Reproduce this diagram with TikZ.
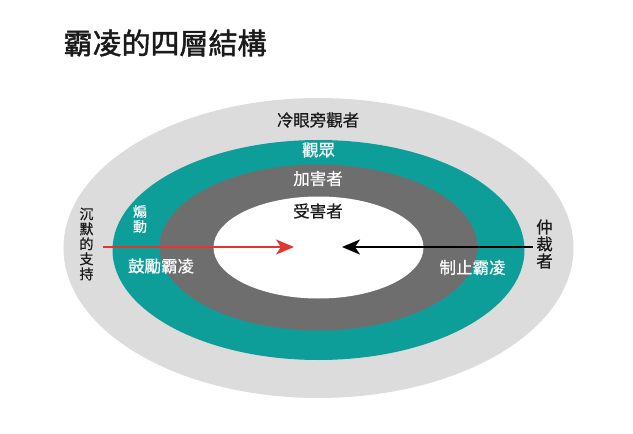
\documentclass[tikz,border=0pt]{standalone}
\usepackage{fontspec}
\newfontfamily\cjk[FakeBold=0.6]{Noto Sans CJK TC}
\newfontfamily\cjktitle[FakeBold=1.6]{Noto Sans CJK TC}
\usetikzlibrary{arrows.meta}
\definecolor{ringgray}{HTML}{DCDCDC}
\definecolor{ringteal}{HTML}{0E9E99}
\definecolor{ringdark}{HTML}{6F6E6F}
\definecolor{arrowred}{HTML}{E2352F}
\definecolor{inktext}{HTML}{1A1A1A}
\begin{document}
\begin{tikzpicture}[x=1pt,y=-1pt,
  lbl/.style={font=\cjk\fontsize{16.5}{18}\selectfont, inner sep=0pt},
  vlbl/.style={font=\cjk\fontsize{14}{15}\selectfont, inner sep=0pt, align=center},
  push/.style={line width=2.2pt, -{Stealth[length=18pt,width=15pt,inset=5pt]}}]
\useasboundingbox (0,0) rectangle (633,434);
\fill[white] (0,0) rectangle (633,434);
% rings
\fill[ringgray] (318.5,248) ellipse [x radius=255pt, y radius=150pt];
\fill[ringteal] (318.5,250) ellipse [x radius=206pt, y radius=110pt];
\fill[ringdark] (318.5,247.5) ellipse [x radius=159pt, y radius=83pt];
\fill[white] (318.5,247.5) ellipse [x radius=105pt, y radius=51pt];
% title
\node[font=\cjktitle\fontsize{29}{32}\selectfont, text=inktext, inner sep=0pt] (title) at (165,43) {霸凌的四層結構};
% ring labels
\node[lbl, text=inktext] (bystander) at (318,120) {冷眼旁觀者};
\node[lbl, text=white] (audience) at (318.5,150) {觀眾};
\node[lbl, text=white] (bully) at (318,178.5) {加害者};
\node[lbl, text=inktext] (victim) at (318,211) {受害者};
\node[vlbl, text=white] (incite) at (140,219) {煽\\動};
\node[lbl, text=white] (encourage) at (161,266) {鼓勵霸凌};
\node[lbl, text=white] (stop) at (472.5,267.5) {制止霸凌};
\node[vlbl, text=inktext] (silent) at (86.5,244) {沉\\默\\的\\支\\持};
\node[vlbl, text=inktext, font=\cjk\fontsize{16.5}{17}\selectfont] (defender) at (544.5,244) {仲\\裁\\者};
% arrows
\coordinate (redstart) at (103,247);
\coordinate (redtip) at (294,247);
\coordinate (blkstart) at (533,247);
\coordinate (blktip) at (342,247);
\draw[push, arrowred] (redstart) -- (redtip);
\draw[push, black] (blkstart) -- (blktip);
\end{tikzpicture}
\end{document}
